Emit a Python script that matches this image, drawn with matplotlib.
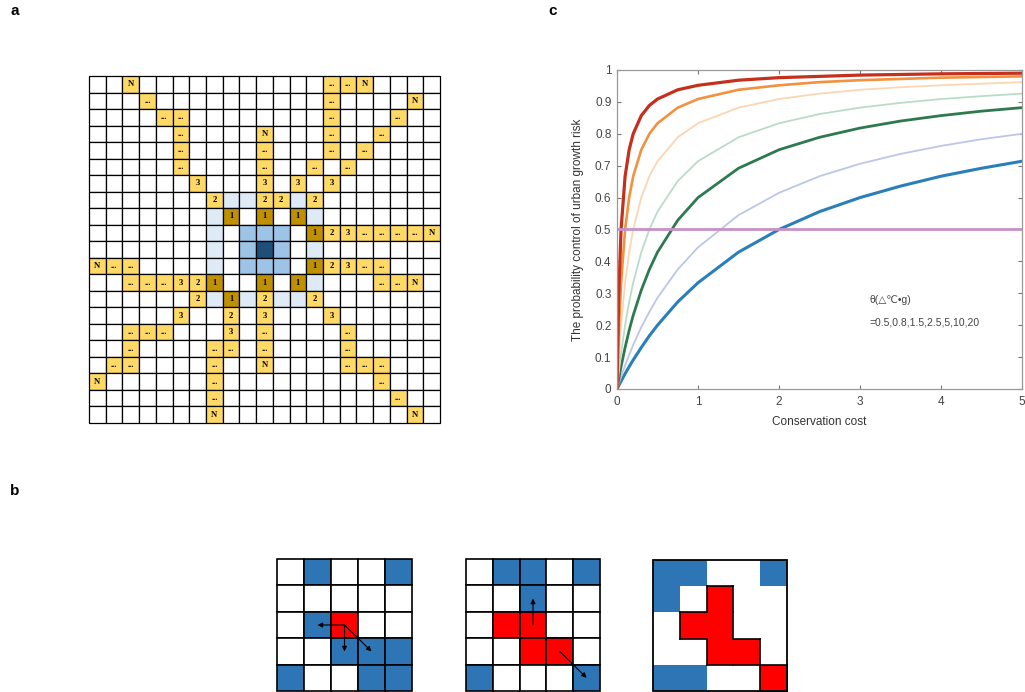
import matplotlib
matplotlib.use('Agg')
import matplotlib.pyplot as plt
from matplotlib.patches import Rectangle

W, H = 1025, 692
fig = plt.figure(figsize=(W / 100, H / 100), dpi=100)

# ---------------- Panel a data ----------------
grid_a = [
    "..N...........eeN....",
    "...e..........e....N.",
    "....ee........e...e..",
    ".....e....N...e..e...",
    ".....e....e...e.e....",
    ".....e....e..e.e.....",
    "......3...3.3.3......",
    ".......2ll22l2.......",
    ".......l1.1.1l.......",
    ".......l.mmm.123eeeeN",
    ".......l.mnm.l.......",
    "Nee....l.mmm.123ee...",
    "..eee321..1.1l...eeN.",
    "......2l1l2ll2.......",
    ".....3..2.3...3......",
    "..eee...3.e....e.....",
    "..e....ee.e....e.....",
    ".ee....e..N....eee...",
    "N......e.........e...",
    ".......e..........e..",
    ".......N...........N.",
]
cell_colors = {'.': 'white', 'l': '#DEEBF7', 'm': '#9DC3E6', 'n': '#1F4E79',
               'N': '#FFD966', 'e': '#FFD966', '2': '#FFD966', '3': '#FFD966',
               '1': '#BF9000'}
cell_text = {'N': 'N', 'e': '...', '1': '1', '2': '2', '3': '3'}

# ---------------- Panel c data ----------------
x_cost = [0, 0.02, 0.05, 0.1, 0.15, 0.2, 0.3, 0.4, 0.5, 0.75, 1, 1.5, 2, 2.5, 3, 3.5, 4, 4.5, 5]
p_theta_0_5 = [0, 0.010, 0.024, 0.048, 0.070, 0.091, 0.130, 0.167, 0.200, 0.273, 0.333, 0.429, 0.500, 0.556, 0.600, 0.636, 0.667, 0.692, 0.714]
p_theta_0_8 = [0, 0.016, 0.038, 0.074, 0.107, 0.138, 0.194, 0.242, 0.286, 0.375, 0.444, 0.545, 0.615, 0.667, 0.706, 0.737, 0.762, 0.783, 0.800]
p_theta_1_5 = [0, 0.029, 0.070, 0.130, 0.184, 0.231, 0.310, 0.375, 0.429, 0.529, 0.600, 0.692, 0.750, 0.789, 0.818, 0.840, 0.857, 0.871, 0.882]
p_theta_2_5 = [0, 0.048, 0.111, 0.200, 0.273, 0.333, 0.429, 0.500, 0.556, 0.652, 0.714, 0.789, 0.833, 0.862, 0.882, 0.897, 0.909, 0.918, 0.926]
p_theta_5 = [0, 0.091, 0.200, 0.333, 0.429, 0.500, 0.600, 0.667, 0.714, 0.789, 0.833, 0.882, 0.909, 0.926, 0.938, 0.946, 0.952, 0.957, 0.962]
p_theta_10 = [0, 0.167, 0.333, 0.500, 0.600, 0.667, 0.750, 0.800, 0.833, 0.882, 0.909, 0.938, 0.952, 0.962, 0.968, 0.972, 0.976, 0.978, 0.980]
p_theta_20 = [0, 0.286, 0.500, 0.667, 0.750, 0.800, 0.857, 0.889, 0.909, 0.938, 0.952, 0.968, 0.976, 0.980, 0.984, 0.986, 0.988, 0.989, 0.990]
threshold_x = [0, 5]
threshold_y = [0.5, 0.5]
x_ticks = [0, 1, 2, 3, 4, 5]
y_ticks = [0, 0.1, 0.2, 0.3, 0.4, 0.5, 0.6, 0.7, 0.8, 0.9, 1]
y_tick_labels = ['0', '0.1', '0.2', '0.3', '0.4', '0.5', '0.6', '0.7', '0.8', '0.9', '1']

# ---------------- Panel b data ----------------
grid_b1 = ["WBWWB", "WWWWW", "WBRWW", "WWBBB", "BWWBB"]
grid_b2 = ["WBBWB", "WWBWW", "WRRWW", "WWRRW", "BWWWB"]
grid_b3 = ["BBWWB", "BWRWW", "WRRWW", "WWRRW", "BBWWR"]
arrows_b1 = [((2, 2), (2, 1)), ((2, 2), (3, 2)), ((2, 2), (3, 3))]
arrows_b2 = [((2, 2), (1, 2)), ((3, 3), (4, 4))]
b_colors = {'W': 'white', 'B': '#2E75B6', 'R': '#FF0000'}


def px_axes(x0, y0, x1, y1):
    return fig.add_axes([x0 / W, 1 - y1 / H, (x1 - x0) / W, (y1 - y0) / H])


# ---------------- Panel a ----------------
axa = px_axes(89, 76, 440, 423)
for r, row in enumerate(grid_a):
    for c, ch in enumerate(row):
        axa.add_patch(Rectangle((c, r), 1, 1, facecolor=cell_colors[ch],
                                edgecolor='black', lw=0.9, clip_on=False))
        if ch in cell_text:
            axa.text(c + 0.5, r + 0.5, cell_text[ch], ha='center', va='center',
                     fontsize=6.2, fontweight='bold', family='Liberation Serif',
                     color='black')
axa.set_xlim(0, len(grid_a[0]))
axa.set_ylim(len(grid_a), 0)
axa.axis('off')

# ---------------- Panel c ----------------
axc = px_axes(617, 70, 1022, 389)
curve_specs = [
    (p_theta_0_5, '#2A7FBA', 2.2),
    (p_theta_0_8, '#BCC6E8', 1.3),
    (p_theta_1_5, '#2D7A4F', 2.0),
    (p_theta_2_5, '#B9DCC9', 1.3),
    (p_theta_5, '#FBD6B3', 1.3),
    (p_theta_10, '#F2913F', 1.9),
    (p_theta_20, '#C4301C', 2.3),
]
for ys, col, lw in curve_specs:
    axc.plot(x_cost, ys, color=col, lw=lw, solid_capstyle='round')
axc.plot(threshold_x, threshold_y, color='#C690C6', lw=2.0)
axc.set_xlim(0, 5)
axc.set_ylim(0, 1)
axc.set_xticks(x_ticks)
axc.set_yticks(y_ticks)
axc.set_yticklabels(y_tick_labels)
axc.tick_params(direction='in', length=3, top=True, right=True, labelsize=8.5,
                colors='#777777', labelcolor='#444444')
axc.tick_params(axis='x', pad=5)
axc.tick_params(axis='y', pad=4)
for sp in axc.spines.values():
    sp.set_color('#999999')
    sp.set_linewidth(0.9)
for lab in axc.get_xticklabels() + axc.get_yticklabels():
    lab.set_family('Liberation Sans')
axc.set_xlabel('Conservation cost', fontsize=8.5, color='#333333',
               family='Liberation Sans', labelpad=6)
axc.set_ylabel('The probability control of urban growth risk', fontsize=8.5,
               color='#333333', family='Liberation Sans', labelpad=8)
axc.text(3.12, 0.279, 'θ(△℃•g)', fontsize=7.5, color='#444444',
         family=['Liberation Sans', 'DejaVu Sans'], va='center')
axc.text(3.12, 0.21, '=0.5,0.8,1.5,2.5,5,10,20', fontsize=7.5, color='#444444',
         family='Liberation Sans', va='center')


# ---------------- Panel b ----------------
def draw_small_grid(ax, grid, arrows, gridlines=True):
    n = len(grid)
    for r, row in enumerate(grid):
        for c, ch in enumerate(row):
            ax.add_patch(Rectangle((c, r), 1, 1, facecolor=b_colors[ch],
                                   edgecolor='black' if gridlines else 'none',
                                   lw=1.2 if gridlines else 0, clip_on=False))
    if not gridlines:
        # outline red region
        for r, row in enumerate(grid):
            for c, ch in enumerate(row):
                if ch != 'R':
                    continue
                def other(rr, cc):
                    if 0 <= rr < n and 0 <= cc < n:
                        return grid[rr][cc] != 'R'
                    return True
                if other(r - 1, c):
                    ax.plot([c, c + 1], [r, r], color='black', lw=1.2, clip_on=False)
                if other(r + 1, c):
                    ax.plot([c, c + 1], [r + 1, r + 1], color='black', lw=1.2, clip_on=False)
                if other(r, c - 1):
                    ax.plot([c, c], [r, r + 1], color='black', lw=1.2, clip_on=False)
                if other(r, c + 1):
                    ax.plot([c + 1, c + 1], [r, r + 1], color='black', lw=1.2, clip_on=False)
        ax.add_patch(Rectangle((0, 0), n, n, facecolor='none', edgecolor='black',
                               lw=1.3, clip_on=False))
    for (r0, c0), (r1, c1) in arrows:
        ax.annotate('', xy=(c1 + 0.5, r1 + 0.5), xytext=(c0 + 0.5, r0 + 0.5),
                    arrowprops=dict(arrowstyle='-|>', color='black', lw=0.8,
                                    mutation_scale=7, shrinkA=0, shrinkB=0))
    ax.set_xlim(0, n)
    ax.set_ylim(n, 0)
    ax.axis('off')


axb1 = px_axes(277, 559, 412, 691)
draw_small_grid(axb1, grid_b1, arrows_b1)
axb2 = px_axes(466, 559, 600, 691)
draw_small_grid(axb2, grid_b2, arrows_b2)
axb3 = px_axes(653, 560, 787, 691)
draw_small_grid(axb3, grid_b3, [], gridlines=False)

# ---------------- Panel labels ----------------
for lab, x, y in [('a', 15, 11), ('c', 553, 11), ('b', 15, 491)]:
    fig.text(x / W, 1 - y / H, lab, fontsize=11, fontweight='bold',
             family='Liberation Sans', ha='center', va='center')

fig.savefig('out.png', dpi=100)
